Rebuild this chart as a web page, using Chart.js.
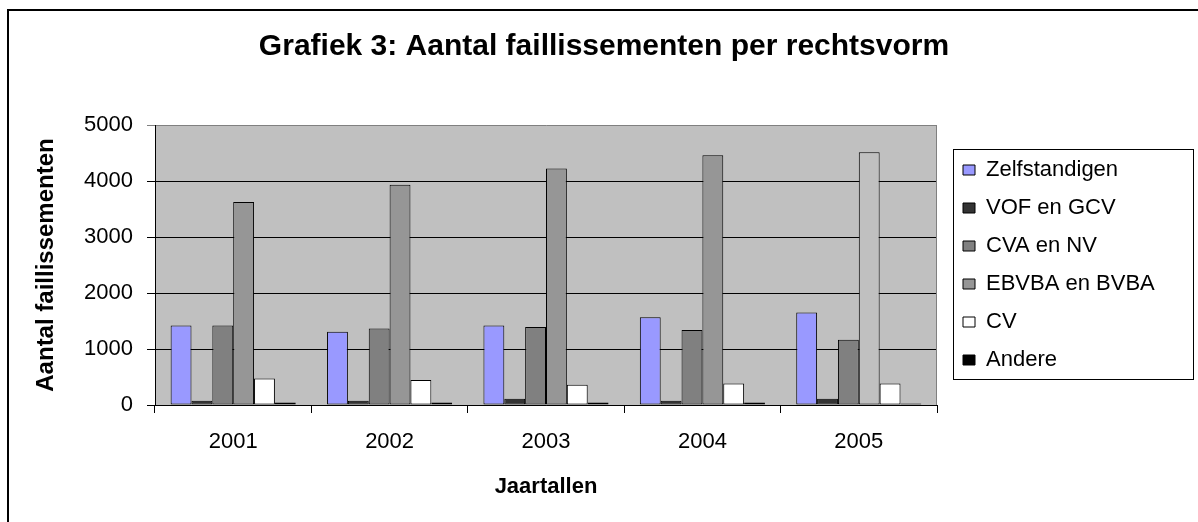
<!DOCTYPE html>
<html><head><meta charset="utf-8">
<script src="https://cdn.jsdelivr.net/npm/chart.js@4.4.1/dist/chart.umd.min.js"></script>
<style>html,body{margin:0;padding:0;background:#fff;overflow:hidden}</style>
</head><body>
<canvas id="c" width="1198" height="522"></canvas>
<script>
// ---- data ----
const years = ['2001', '2002', '2003', '2004', '2005'];
const zelfstandigen = [1420, 1310, 1420, 1565, 1650];
const vofGcv        = [75, 75, 110, 75, 110];
const cvaNv         = [1420, 1365, 1395, 1340, 1165];
const ebvbaBvba     = [3625, 3935, 4225, 4460, 4515];
const cv            = [475, 445, 360, 385, 385];
const andere        = [45, 45, 45, 45, 25];
const yTicks        = [0, 1000, 2000, 3000, 4000, 5000];
const seriesNames   = ['Zelfstandigen', 'VOF en GCV', 'CVA en NV', 'EBVBA en BVBA', 'CV', 'Andere'];

const FONT = "'Liberation Sans', Arial, Helvetica, sans-serif";
Chart.defaults.font.family = FONT;
Chart.defaults.color = '#000';

const PLOT_RIGHT = 937;

const decor = {
  id: 'decor',
  beforeDraw(chart) {
    const {ctx, chartArea: a} = chart;
    ctx.save();
    ctx.fillStyle = '#C0C0C0';
    ctx.fillRect(a.left, a.top, a.right - a.left, a.bottom - a.top);
    ctx.restore();
  },
  beforeDatasetsDraw(chart) {
    const {ctx, chartArea: a} = chart;
    ctx.save();
    ctx.strokeStyle = '#808080';
    ctx.lineWidth = 1;
    ctx.beginPath();
    ctx.moveTo(Math.round(a.right) - 0.5, a.top);
    ctx.lineTo(Math.round(a.right) - 0.5, a.bottom);
    ctx.stroke();
    ctx.restore();
  },
  afterDraw(chart) {
    const {ctx} = chart;
    ctx.save();
    // outer frame
    ctx.strokeStyle = '#000';
    ctx.lineWidth = 2;
    ctx.strokeRect(8, 10, 1400, 700);
    // legend frame
    const lg = chart.legend;
    const hb = lg.legendHitBoxes;
    if (hb && hb.length) {
      const top = Math.round(hb[0].top - 10) + 0.5;
      const last = hb[hb.length - 1];
      const bottom = Math.round(last.top + last.height + 8) + 0.5;
      const left = Math.round(lg.left + 6) + 0.5;
      ctx.strokeStyle = '#000';
      ctx.lineWidth = 1;
      ctx.strokeRect(left, top, 1193.5 - left, bottom - top);
    }
    ctx.restore();
  }
};

const ds = (label, data, bg) => ({
  label, data,
  backgroundColor: bg,
  borderColor: '#000',
  borderWidth: 1,
  borderSkipped: false,
  categoryPercentage: 0.8,
  barPercentage: 1.0
});

new Chart(document.getElementById('c'), {
  type: 'bar',
  data: {
    labels: years,
    datasets: [
      ds(seriesNames[0], zelfstandigen, '#9999FF'),
      ds(seriesNames[1], vofGcv, '#333333'),
      ds(seriesNames[2], cvaNv, '#808080'),
      ds(seriesNames[3], ebvbaBvba, c => c.dataIndex === 4 ? '#C0C0C0' : '#969696'),
      ds(seriesNames[4], cv, '#FFFFFF'),
      ds(seriesNames[5], andere, '#000000')
    ]
  },
  options: {
    responsive: false,
    animation: false,
    devicePixelRatio: 1,
    layout: {padding: {left: 10, top: 10, right: 0, bottom: 0}},
    plugins: {
      title: {
        display: true,
        text: 'Grafiek 3: Aantal faillissementen per rechtsvorm',
        font: {size: 30, weight: 'bold'},
        color: '#000',
        padding: {top: 19, bottom: 60}
      },
      legend: {
        display: true,
        position: 'right',
        fullSize: false,
        align: 'center',
        maxWidth: 320,
        labels: {
          boxWidth: 12,
          boxHeight: 10,
          padding: 16,
          font: {size: 22},
          color: '#000'
        }
      },
      tooltip: {enabled: false}
    },
    scales: {
      x: {
        type: 'category',
        offset: true,
        grid: {offset: true, drawOnChartArea: false, drawTicks: true, tickLength: 8, color: '#000'},
        border: {display: true, color: '#000', width: 1},
        ticks: {font: {size: 22}, padding: 16, color: '#000', maxRotation: 0},
        title: {display: true, text: 'Jaartallen', font: {size: 22, weight: 'bold'}, color: '#000', padding: {top: 0, bottom: 22}},
        afterFit(s) { s.height = 117; }
      },
      y: {
        type: 'linear',
        position: 'left',
        min: yTicks[0],
        max: yTicks[yTicks.length - 1],
        ticks: {
          stepSize: yTicks[1] - yTicks[0], font: {size: 22}, padding: 14, color: '#000',
          callback: v => String(v)
        },
        grid: {
          drawTicks: true, tickLength: 8, lineWidth: 1,
          color: c => (c.tick && c.tick.value === yTicks[yTicks.length - 1]) ? '#808080' : '#000'
        },
        border: {display: true, color: '#000', width: 1},
        title: {display: true, text: 'Aantal faillissementen', font: {size: 24, weight: 'bold'}, color: '#000', padding: {top: 22, bottom: 0}},
        afterFit(s) { s.width = 145; }
      },
      gap: {
        type: 'linear', axis: 'y', position: 'right', display: true, weight: 0,
        grid: {display: false, drawTicks: false}, border: {display: false}, ticks: {display: false},
        afterFit(s) { s.width = 10; }
      },
      outer: {
        type: 'linear', axis: 'y', position: 'right', display: true, weight: 2000,
        grid: {display: false, drawTicks: false}, border: {display: false}, ticks: {display: false},
        afterFit(s) {
          const lw = s.chart.legend ? s.chart.legend.width : 0;
          s.width = Math.max(0, 1198 - PLOT_RIGHT - 10 - lw);
        }
      }
    }
  },
  plugins: [decor]
});
</script>
</body></html>
